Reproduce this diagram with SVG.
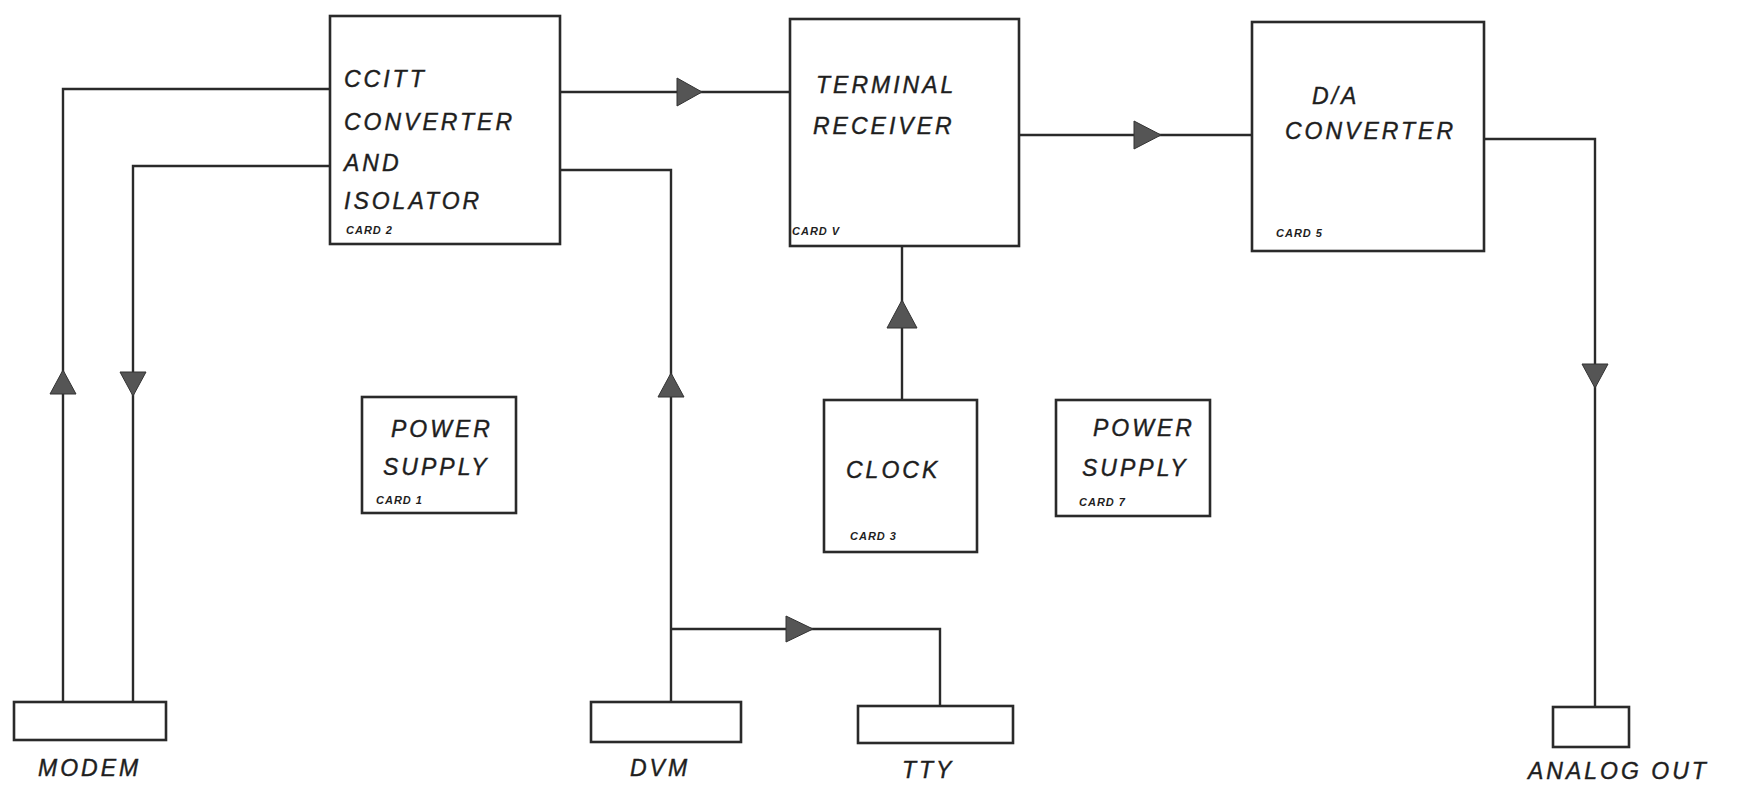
<svg xmlns="http://www.w3.org/2000/svg" width="1740" height="795" viewBox="0 0 1740 795">
<style>
.box{fill:none;stroke:#2a2a2a;stroke-width:2.6}
.ln{fill:none;stroke:#2a2a2a;stroke-width:2.4}
.arr{fill:#555;stroke:#333;stroke-width:1}
.t{font-family:"Liberation Sans",Arial,sans-serif;font-style:italic;font-size:23px;letter-spacing:3px;fill:#1e1e1e;stroke:#1e1e1e;stroke-width:0.4}
.s{font-family:"Liberation Sans",Arial,sans-serif;font-style:italic;font-weight:bold;font-size:11px;letter-spacing:1px;fill:#1e1e1e}
</style>
<rect width="1740" height="795" fill="#fff"/>
<g id="connectors">
<polyline class="ln" points="330,89 63,89 63,702"/>
<polyline class="ln" points="330,166 133,166 133,702"/>
<line class="ln" x1="560" y1="92" x2="790" y2="92"/>
<polyline class="ln" points="560,170 671,170 671,702"/>
<polyline class="ln" points="671,629 940,629 940,706"/>
<line class="ln" x1="1019" y1="135" x2="1252" y2="135"/>
<line class="ln" x1="902" y1="246" x2="902" y2="400"/>
<polyline class="ln" points="1484,139 1595,139 1595,707"/>
<polygon class="arr" points="677,78 702,92 677,106"/>
<polygon class="arr" points="1134,121 1161,135 1134,149"/>
<polygon class="arr" points="50,394 63,370 76,394"/>
<polygon class="arr" points="120,372 146,372 133,396"/>
<polygon class="arr" points="658,397 671,373 684,397"/>
<polygon class="arr" points="887,328 902,300 917,328"/>
<polygon class="arr" points="786,616 813,629 786,642"/>
<polygon class="arr" points="1582,364 1608,364 1595,388"/>
</g>
<g id="ccitt">
<rect class="box" x="330" y="16" width="230" height="228"/>
<text class="t" x="344" y="87" font-size="25">CCITT</text>
<text class="t" x="344" y="130">CONVERTER</text>
<text class="t" x="344" y="171">AND</text>
<text class="t" x="344" y="209">ISOLATOR</text>
<text class="s" x="346" y="234">CARD 2</text>
</g>
<g id="terminal">
<rect class="box" x="790" y="19" width="229" height="227"/>
<text class="t" x="816" y="93">TERMINAL</text>
<text class="t" x="813" y="134">RECEIVER</text>
<text class="s" x="792" y="235">CARD V</text>
</g>
<g id="da">
<rect class="box" x="1252" y="22" width="232" height="229"/>
<text class="t" x="1312" y="104">D/A</text>
<text class="t" x="1285" y="139">CONVERTER</text>
<text class="s" x="1276" y="237">CARD 5</text>
</g>
<g id="ps1">
<rect class="box" x="362" y="397" width="154" height="116"/>
<text class="t" x="391" y="437">POWER</text>
<text class="t" x="383" y="475">SUPPLY</text>
<text class="s" x="376" y="504">CARD 1</text>
</g>
<g id="clock">
<rect class="box" x="824" y="400" width="153" height="152"/>
<text class="t" x="846" y="478">CLOCK</text>
<text class="s" x="850" y="540">CARD 3</text>
</g>
<g id="ps2">
<rect class="box" x="1056" y="400" width="154" height="116"/>
<text class="t" x="1093" y="436">POWER</text>
<text class="t" x="1082" y="476">SUPPLY</text>
<text class="s" x="1079" y="506">CARD 7</text>
</g>
<g id="modem">
<rect class="box" x="14" y="702" width="152" height="38"/>
<text class="t" x="38" y="776">MODEM</text>
</g>
<g id="dvm">
<rect class="box" x="591" y="702" width="150" height="40"/>
<text class="t" x="630" y="776">DVM</text>
</g>
<g id="tty">
<rect class="box" x="858" y="706" width="155" height="37"/>
<text class="t" x="902" y="778">TTY</text>
</g>
<g id="analog">
<rect class="box" x="1553" y="707" width="76" height="40"/>
<text class="t" x="1528" y="779">ANALOG OUT</text>
</g>
</svg>
